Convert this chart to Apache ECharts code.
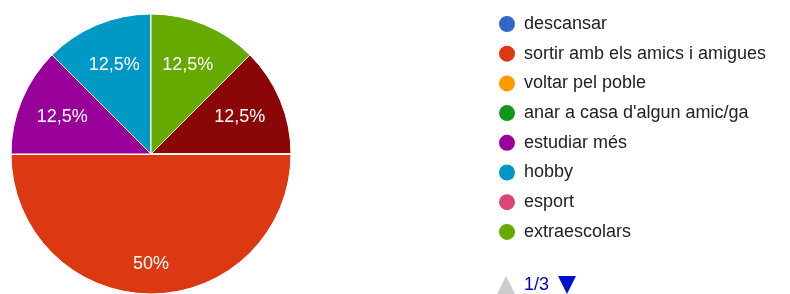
<!DOCTYPE html>
<html>
<head>
<meta charset="utf-8">
<script src="https://cdn.jsdelivr.net/npm/echarts@6/dist/echarts.min.js"></script>
<style>html,body{margin:0;padding:0;background:#fff}#c{width:790px;height:294px}</style>
</head>
<body>
<div id="c"></div>
<script>
// Categories (first legend page visible; later pages hidden behind pagination)
const categories = [
  "descansar",
  "sortir amb els amics i amigues",
  "voltar pel poble",
  "anar a casa d'algun amic/ga",
  "estudiar més",
  "hobby",
  "esport",
  "extraescolars",
  "llegir",
  "jugar a videojocs",
  "mirar la tele",
  "dormir",
  "ajudar a casa",
  "escoltar música",
  "anar a la platja",
  "treballar",
  "res",
  "altres"
];
// Response counts
const values = [0, 4, 0, 0, 1, 1, 0, 1, 0, 0, 0, 0, 0, 0, 0, 1, 0, 0];
// Legend items per page
const pageSize = 8;
// Palette
const palette = ["#3366CC","#DC3912","#FF9900","#109618","#990099","#0099C6","#DD4477","#66AA00",
  "#B82E2E","#316395","#994499","#22AA99","#AAAA11","#6633CC","#E67300","#8B0707","#651067","#329262"];

const total = values.reduce((a,b)=>a+b,0);
const mainData = categories.map((n,i)=>({name:n, value:values[i], itemStyle:{color:palette[i]}}));
const labelData = categories.map((n,i)=>({name:n, value:values[i]}));
const font = "'Liberation Sans', Arial, sans-serif";
const pct = p => String(p.percent).replace('.', ',') + '%';
const labelSeries = (radius, test) => ({
  type:'pie', center:[151,154], radius:radius, startAngle:0, clockwise:true,
  silent:true, avoidLabelOverlap:false, z:5,
  itemStyle:{color:'rgba(0,0,0,0)', borderWidth:0},
  labelLine:{show:false}, emphasis:{disabled:true},
  label:{show:true, position:'inside', color:'#fff', fontFamily:font, fontSize:18,
    formatter: p => (p.value && test(p.value / total)) ? pct(p) : ''},
  data: labelData
});
const chart = echarts.init(document.getElementById('c'), null, {renderer:'canvas'});
chart.setOption({
  animation:false,
  color: palette,
  legend:[
    {
      // visible first page of the legend
      type:'plain', orient:'vertical', left:497, top:14, padding:0,
      icon:'circle', itemWidth:18, itemHeight:18, itemGap:9.7,
      textStyle:{fontFamily:font, fontSize:18, color:'#222', padding:[0,0,0,3]},
      data: categories.slice(0, pageSize)
    },
    {
      // page controller
      type:'scroll', orient:'vertical', left:497, top:171, height:123, padding:0,
      icon:'rect', itemWidth:58, itemHeight:10, itemGap:2,
      itemStyle:{opacity:0}, formatter:()=> '',
      textStyle:{color:'rgba(0,0,0,0)', fontSize:1},
      pageButtonGap:5, pageButtonItemGap:1, pageIconSize:18,
      pageIconColor:'#0011cc', pageIconInactiveColor:'#cccccc',
      pageTextStyle:{color:'#0000cc', fontFamily:font, fontSize:18},
      pageFormatter:'{current}/{total}',
      data: categories
    }
  ],
  series:[
    {
      type:'pie', center:[151,154], radius:140, startAngle:0, clockwise:true,
      avoidLabelOverlap:false, silent:true,
      itemStyle:{borderColor:'#fff', borderWidth:1},
      label:{show:false}, labelLine:{show:false},
      emphasis:{disabled:true},
      data: mainData
    },
    labelSeries(186, f => f < 0.5),
    labelSeries(215, f => f >= 0.5)
  ]
});
</script>
</body>
</html>
